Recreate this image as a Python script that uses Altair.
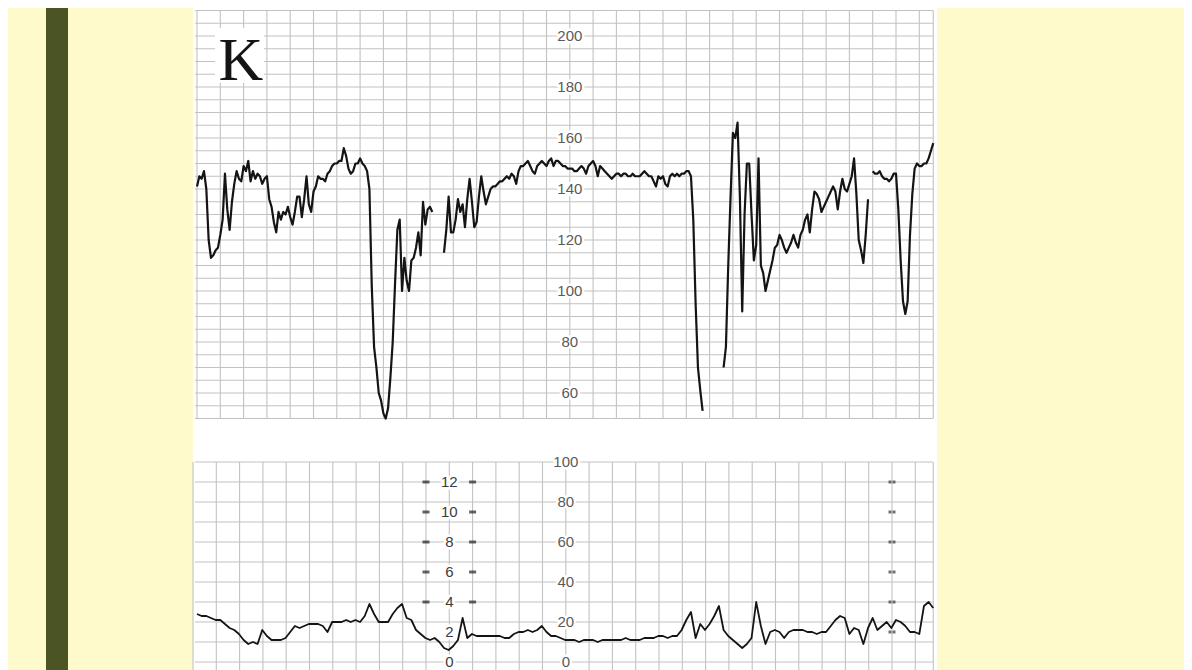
import altair as alt
import pandas as pd

# ---------------- data ----------------
# Fetal heart rate (bpm), one reading every 0.1 min from t = 0 (None = pen lift)
fhr_bpm = [
    141, 145, 144, 147, 140, 120, 113, 114, 116, 117,
    122, 128, 146, 132, 124, 135, 142, 147, 144, 143,
    149, 147, 151, 143, 147, 144, 146, 145, 142, 144,
    145, 136, 133, 127, 123, 131, 128, 131, 130, 133,
    129, 126, 131, 137, 137, 129, 136, 145, 134, 131,
    139, 141, 145, 144, 144, 143, 146, 147, 149, 150,
    150, 151, 151, 156, 153, 148, 146, 147, 150, 150,
    152, 150, 149, 147, 140, 102, 78, 70, 60, 57,
    52, 50, 54, 66, 80, 103, 124, 128, 100, 113,
    104, 100, 112, 113, 117, 123, 114, 135, 126, 132,
    133, 131, None, None, None, None, 115, 124, 137, 123,
    123, 128, 136, 131, 134, 125, 136, 144, 135, 125,
    127, 137, 145, 139, 134, 137, 140, 141, 141, 142,
    143, 143, 144, 145, 144, 146, 145, 142, 147, 149,
    149, 150, 151, 149, 147, 146, 149, 150, 151, 150,
    149, 151, 152, 149, 151, 151, 150, 149, 149, 148,
    148, 148, 147, 147, 148, 149, 148, 146, 149, 150,
    151, 149, 145, 149, 148, 147, 146, 145, 144, 145,
    146, 146, 145, 146, 146, 145, 145, 146, 145, 145,
    145, 146, 147, 146, 145, 145, 143, 141, 145, 144,
    145, 142, 141, 145, 146, 145, 146, 145, 146, 146,
    147, 147, 145, 128, 95, 70, 61, 53, None, None,
    None, None, None, None, None, None, 70, 78, 110, 137,
    162, 160, 166, 137, 92, 130, 150, 150, 130, 112,
    118, 152, 110, 107, 100, 104, 108, 112, 117, 118,
    122, 120, 117, 115, 117, 119, 122, 119, 117, 122,
    124, 128, 130, 123, 132, 139, 138, 136, 131, 133,
    135, 137, 139, 141, 139, 132, 139, 144, 140, 139,
    142, 145, 152, 138, 120, 116, 111, 122, 136, None,
    147, 146, 146, 147, 145, 144, 144, 143, 144, 146,
    146, 132, 112, 96, 91, 96, 122, 138, 148, 150,
    149, 149, 150, 150, 152, 155, 158,
]
fhr_step_min = 0.1

# Uterine activity (mmHg), one reading every 0.2 min from t = 0
ua_mmhg = [
    24, 23, 23, 22, 21, 21, 19, 17, 16, 14,
    11, 9, 10, 9, 16, 13, 11, 11, 11, 12,
    15, 18, 17, 18, 19, 19, 19, 18, 15, 20,
    20, 20, 21, 20, 21, 20, 23, 29, 24, 20,
    20, 20, 24, 27, 29, 22, 21, 16, 14, 12,
    11, 12, 10, 7, 6, 8, 11, 22, 12, 14,
    13, 13, 13, 13, 13, 13, 12, 12, 14, 15,
    15, 16, 15, 16, 18, 15, 13, 13, 12, 11,
    11, 11, 10, 11, 11, 11, 10, 11, 11, 11,
    11, 11, 12, 11, 11, 11, 12, 12, 12, 13,
    13, 12, 13, 13, 16, 21, 25, 12, 19, 16,
    19, 23, 28, 16, 13, 11, 9, 7, 9, 12,
    30, 18, 9, 15, 16, 15, 12, 15, 16, 16,
    16, 15, 15, 14, 15, 15, 18, 21, 23, 22,
    14, 17, 16, 9, 17, 22, 16, 18, 20, 17,
    21, 20, 18, 15, 15, 14, 28, 30, 27,
]
ua_step_min = 0.2

# grid / scale labels
minute_lines = list(range(0, 32))
fhr_grid = list(range(50, 215, 5))
fhr_labels = [200, 180, 160, 140, 120, 100, 80, 60]
ua_grid = list(range(0, 101, 10))
ua_labels = [100, 80, 60, 40, 20, 0]
kpa_text = ["12", "10", "8", "6", "4", "2", "0"]
kpa_at_ua = [90, 75, 60, 45, 30, 15, 0]
kpa_dash_ua = [90, 75, 60, 45, 30]
right_mark_ua = [90, 75, 60, 45, 30, 15]
panel_letter = "K"

# ---------------- frames ----------------
rows, seg, prev_none = [], 0, False
for i, v in enumerate(fhr_bpm):
    if v is None:
        if not prev_none:
            seg += 1
        prev_none = True
        continue
    prev_none = False
    rows.append({"t": round(i * fhr_step_min, 2), "fhr": v, "seg": seg})
fhr_df = pd.DataFrame(rows)
ua_df = pd.DataFrame({"t": [round(i * ua_step_min, 2) for i in range(len(ua_mmhg))], "ua": ua_mmhg})
one = pd.DataFrame({"k": [0]})
min_df = pd.DataFrame({"t": minute_lines})
fhr_grid_df = pd.DataFrame({"v": fhr_grid})
ua_grid_df = pd.DataFrame({"v": ua_grid})
fhr_lab_df = pd.DataFrame({"v": fhr_labels, "txt": [str(v) for v in fhr_labels]})
ua_lab_df = pd.DataFrame({"v": ua_labels, "txt": [str(v) for v in ua_labels]})
kpa_df = pd.DataFrame({"v": kpa_at_ua, "txt": kpa_text})
dash_df = pd.DataFrame({"v": kpa_dash_ua})
rmark_df = pd.DataFrame({"v": right_mark_ua})

# ---------------- scales ----------------
xs = alt.Scale(domain=[0, 31], range=[189, 911.3], nice=False, zero=False)
fs = alt.Scale(domain=[60, 200], range=[385, 28], nice=False, zero=False)
us = alt.Scale(domain=[0, 100], range=[654, 454], nice=False, zero=False)

GRID = "#c2c2c2"
LABEL = "#5a5a5a"
INK = "#141414"
FONT = "Liberation Sans"
H = 662

layers = []
# paper + olive bar
layers.append(alt.Chart(one).mark_rect(color="#4b5523").encode(
    x=alt.value(38), x2=alt.value(60), y=alt.value(0), y2=alt.value(H)))
layers.append(alt.Chart(one).mark_rect(color="white").encode(
    x=alt.value(185), x2=alt.value(929), y=alt.value(0), y2=alt.value(H)))

# top panel grid
layers.append(alt.Chart(fhr_grid_df).mark_rule(color=GRID, strokeWidth=1.1).encode(
    y=alt.Y("v:Q", scale=fs, axis=None), x=alt.value(187), x2=alt.value(925)))
layers.append(alt.Chart(min_df).mark_rule(color=GRID, strokeWidth=1.1).encode(
    x=alt.X("t:Q", scale=xs, axis=None),
    y=alt.YDatum(210, scale=fs, axis=None), y2=alt.Y2Datum(50)))
layers.append(alt.Chart(one).mark_rule(color=GRID, strokeWidth=1.1).encode(
    x=alt.XDatum(31.6, scale=xs, axis=None),
    y=alt.YDatum(210, scale=fs, axis=None), y2=alt.Y2Datum(50)))

# bottom panel grid
layers.append(alt.Chart(ua_grid_df).mark_rule(color=GRID, strokeWidth=1.1).encode(
    y=alt.Y("v:Q", scale=us, axis=None), x=alt.value(187), x2=alt.value(925)))
layers.append(alt.Chart(min_df).mark_rule(color=GRID, strokeWidth=1.1, xOffset=-4).encode(
    x=alt.X("t:Q", scale=xs, axis=None),
    y=alt.YDatum(100, scale=us, axis=None), y2=alt.Y2Datum(-6)))
layers.append(alt.Chart(one).mark_rule(color=GRID, strokeWidth=1.1).encode(
    x=alt.XDatum(31.6, scale=xs, axis=None),
    y=alt.YDatum(100, scale=us, axis=None), y2=alt.Y2Datum(-6)))

# white block behind the panel letter
layers.append(alt.Chart(one).mark_rect(color="white").encode(
    x=alt.value(207), x2=alt.value(256), y=alt.value(20), y2=alt.value(75)))
layers.append(alt.Chart(one).mark_text(
    font="Liberation Serif", fontSize=62, color=INK, align="center", baseline="alphabetic").encode(
    x=alt.value(233), y=alt.value(72), text=alt.value(panel_letter)))

# scale labels (with white halo interrupting the grid)
def labels(df, scale, tpos, color, size, xoff=0):
    base = dict(font=FONT, fontSize=size, align="center", baseline="middle", xOffset=xoff)
    enc = dict(x=alt.XDatum(tpos, scale=xs, axis=None),
               y=alt.Y("v:Q", scale=scale, axis=None), text="txt:N")
    halo = alt.Chart(df).mark_text(color="white", stroke="white", strokeWidth=5,
                                   strokeJoin="round", **base).encode(**enc)
    txt = alt.Chart(df).mark_text(color=color, **base).encode(**enc)
    return [halo, txt]

layers += labels(fhr_lab_df, fs, 16, LABEL, 15)
layers += labels(ua_lab_df, us, 16, LABEL, 15, xoff=-4)
layers += labels(kpa_df, us, 11, "#3c3c3c", 15, xoff=-4)

# kPa dashes and right-hand marks
for tpos in (10, 12):
    layers.append(alt.Chart(dash_df).mark_tick(
        orient="horizontal", size=7, thickness=3, color="#222", xOffset=-4).encode(
        x=alt.XDatum(tpos, scale=xs, axis=None), y=alt.Y("v:Q", scale=us, axis=None)))
for off in (-6, -2):
    layers.append(alt.Chart(rmark_df).mark_tick(
        orient="horizontal", size=3, thickness=3, color="#333", xOffset=off).encode(
        x=alt.XDatum(30, scale=xs, axis=None), y=alt.Y("v:Q", scale=us, axis=None)))

# traces
layers.append(alt.Chart(fhr_df).mark_line(color=INK, strokeWidth=2.2, strokeJoin="round").encode(
    x=alt.X("t:Q", scale=xs, axis=None),
    y=alt.Y("fhr:Q", scale=fs, axis=None),
    detail="seg:N"))
layers.append(alt.Chart(ua_df).mark_line(color=INK, strokeWidth=1.8, strokeJoin="round").encode(
    x=alt.X("t:Q", scale=xs, axis=None),
    y=alt.Y("ua:Q", scale=us, axis=None)))

chart = alt.layer(*layers).resolve_scale(y="independent").properties(
    width=1176, height=H,
    autosize=alt.AutoSizeParams(type="none"),
    padding=0,
    background="#fffacc",
).configure_view(strokeWidth=0)

chart.save("out.html", embed_options={"renderer": "svg", "actions": False})
